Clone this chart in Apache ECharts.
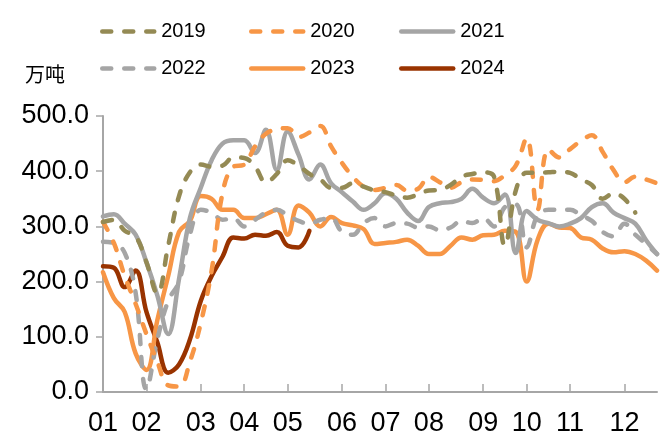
<!DOCTYPE html>
<html>
<head>
<meta charset="utf-8">
<script src="https://cdn.jsdelivr.net/npm/echarts@6/dist/echarts.min.js"></script>
<style>
  html, body { margin: 0; padding: 0; background: #fff; }
  #main { width: 668px; height: 439px; }
</style>
</head>
<body>
<div id="main"></div>
<script>
// 周度数据，单位：万吨
var monthLabels = ['01','02','03','04','05','06','07','08','09','10','11','12'];
var monthStart = [0, 4, 9, 13, 17, 22, 26, 30, 35, 39, 43, 48]; // 每月第一周所在的位置
var weeks = [];
for (var w = 1; w <= 52; w++) weeks.push('W' + w);

var y2019 = [308,312,292,282,235,178,265,355,398,412,408,410,425,424,408,380,395,420,410,395,385,370,370,378,372,365,362,356,352,358,365,366,375,390,395,398,390,265,365,397,397,398,399,397,385,375,350,360,350,325,null,null];
var y2020 = [308,270,210,160,105,55,12,10,55,125,220,360,408,412,445,468,476,478,462,470,482,445,415,390,372,366,370,375,365,368,390,380,370,380,385,384,382,393,410,460,330,440,425,440,455,465,435,402,380,390,385,378];
var y2021 = [318,322,305,285,235,175,105,205,315,370,420,450,456,456,433,475,402,472,430,385,412,378,362,345,330,342,360,350,325,310,335,342,344,350,368,352,342,358,252,328,312,306,300,305,315,335,342,325,315,305,275,250];
var y2022 = [272,270,252,180,5,95,165,200,285,330,325,312,315,300,312,325,330,320,310,305,312,315,290,285,306,315,300,306,305,298,300,293,298,310,306,315,300,335,340,262,320,330,330,330,320,310,290,282,305,285,268,250];
var y2023 = [217,170,145,70,40,130,210,290,310,355,350,330,330,315,315,322,330,285,338,325,300,317,306,302,295,268,270,272,276,265,250,250,265,280,276,284,285,292,290,200,275,305,298,297,280,276,260,253,255,250,238,220];
var y2024 = [228,225,190,220,145,90,35,50,95,165,210,245,280,278,285,283,290,265,262,292];

var seriesNames = ['2019','2020','2021','2022','2023','2024'];
var seriesData = [y2019, y2020, y2021, y2022, y2023, y2024];
var seriesColor = ['#948A54','#F79646','#A5A5A5','#A5A5A5','#F79646','#993300'];
var seriesDashed = [true, true, false, true, false, false];

var FONT = 'Liberation Sans, Arial, sans-serif';
var LW = 4.5;
var dom = document.getElementById('main');
var myChart = echarts.init(dom, null, {renderer: 'canvas'});

var series = [];
var legends = [];
var legendLeft = [95, 244, 394];
var legendTop = [16, 53];
for (var i = 0; i < seriesNames.length; i++) {
    var dash = seriesDashed[i] ? [9, 13] : 'solid';
    series.push({
        name: seriesNames[i],
        type: 'line',
        data: seriesData[i],
        smooth: 0.4,
        symbol: 'none',
        z: 10 - i,
        lineStyle: {color: seriesColor[i], width: LW, type: dash, cap: 'round', join: 'round'},
        itemStyle: {color: seriesColor[i]}
    });
    legends.push({
        data: [seriesNames[i]],
        left: legendLeft[i % 3],
        top: legendTop[Math.floor(i / 3)],
        itemWidth: 52,
        itemHeight: 26,
        itemStyle: {opacity: 0},
        lineStyle: {width: LW, type: dash, cap: 'round', color: seriesColor[i]},
        textStyle: {fontSize: 20, color: '#000', fontFamily: FONT, padding: [0, 0, 0, 2]}
    });
}

var option = {
    animation: false,
    backgroundColor: '#fff',
    grid: {left: 103, right: 11, top: 116, bottom: 47, containLabel: false, outerBoundsMode: 'none'},
    legend: legends,
    graphic: [{
        type: 'text',
        left: 25,
        top: 64,
        style: {text: '万吨', fontSize: 20, fill: '#000', fontFamily: 'Noto Sans CJK SC'}
    }],
    xAxis: {
        type: 'category',
        data: weeks,
        boundaryGap: false,
        axisLine: {lineStyle: {color: '#A6A6A6', width: 2}},
        axisTick: {
            inside: true,
            length: 8,
            lineStyle: {color: '#A6A6A6', width: 1.5},
            interval: function (idx) { return monthStart.indexOf(idx) >= 0; }
        },
        axisLabel: {
            interval: function (idx) { return monthStart.indexOf(idx) >= 0; },
            formatter: function (v, idx) { return monthLabels[monthStart.indexOf(idx)]; },
            fontSize: 27,
            color: '#000',
            fontFamily: FONT,
            margin: 18
        },
        splitLine: {show: false}
    },
    yAxis: {
        type: 'value',
        min: 0,
        max: 500,
        interval: 100,
        axisLine: {show: true, lineStyle: {color: '#A6A6A6', width: 2}},
        axisTick: {show: true, length: 7, lineStyle: {color: '#A6A6A6', width: 1.5}},
        axisLabel: {
            formatter: function (v) { return v.toFixed(1); },
            fontSize: 27,
            color: '#000',
            fontFamily: FONT,
            margin: 14
        },
        splitLine: {show: false}
    },
    series: series
};
myChart.setOption(option);
</script>
</body>
</html>
